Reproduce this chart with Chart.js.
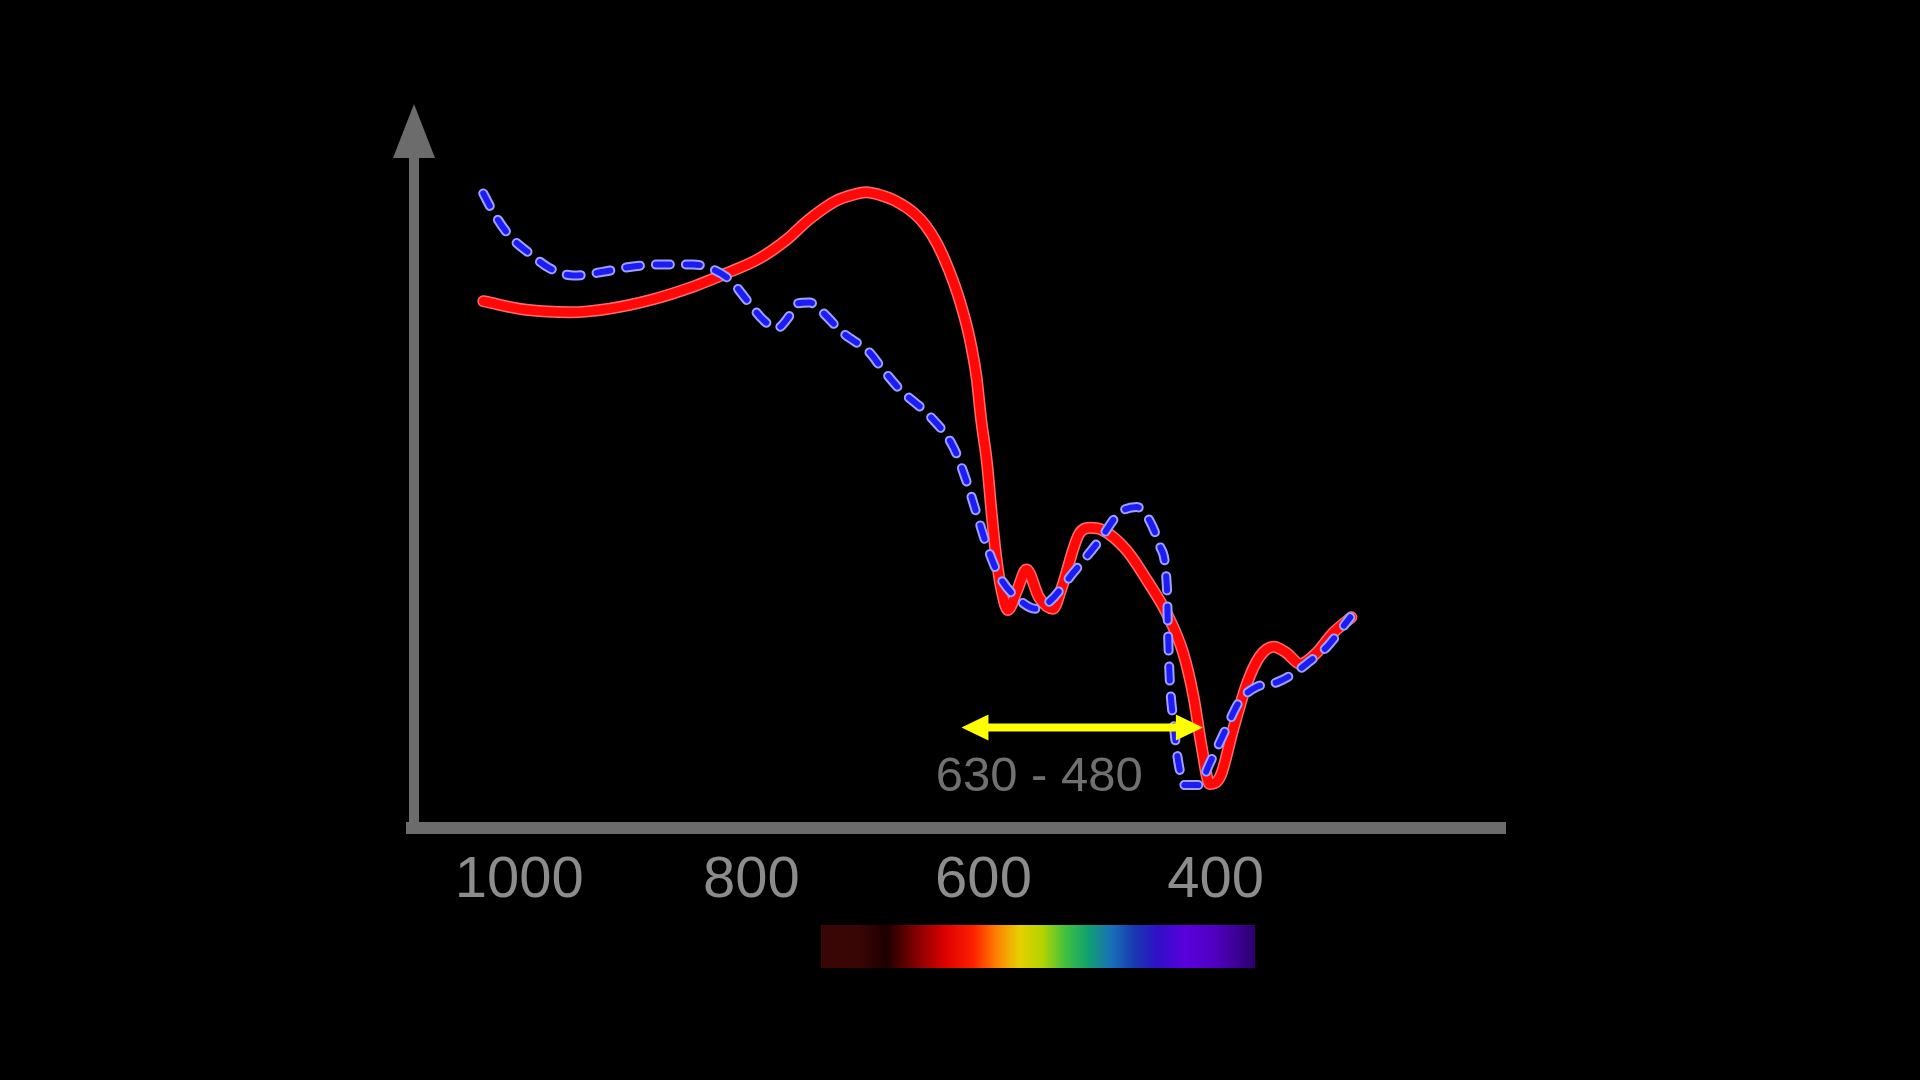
<!DOCTYPE html>
<html>
<head>
<meta charset="utf-8">
<script src="https://cdn.jsdelivr.net/npm/chart.js@4.4.1/dist/chart.umd.min.js"></script>
<style>
html,body{margin:0;padding:0;background:#000;}
#wrap{width:1920px;height:1080px;position:relative;}
</style>
</head>
<body>
<div id="wrap"><canvas id="c" width="1920" height="1080"></canvas></div>
<script>
// ---- data ----
const tickValues = [1000, 800, 600, 400];
const redWavelength = [1031,994,956,922,887,850,821,793,770,750,727,712,701,690,676,660,650,640,630,620,612,606,602,597,593,589,584,579,571,563,552,540,533,517,508,497,477,459,442,428,419,412,405,396,385,373,362,350,339,327,313,299,283];
const redValues     = [43.0,42.3,42.1,42.4,43.1,44.2,45.3,46.5,48.0,49.7,51.2,51.7,51.9,51.7,51.2,50.2,49.2,47.7,45.6,42.9,40.0,36.8,33.3,29.8,25.7,22.1,19.2,17.8,19.4,21.1,18.8,17.9,19.5,24.1,24.5,24.3,22.7,20.2,17.5,14.3,10.7,6.6,3.6,4.2,8.0,11.8,14.0,14.8,14.3,13.4,14.3,15.9,17.2];
const blueWavelength = [1031,1022,1008,991,974,953,928,905,879,850,833,818,804,790,778,768,761,750,741,721,698,689,672,646,626,615,606,597,586,569,555,543,523,500,483,468,457,448,442,441,439.5,436.5,432,426.5,415,405,393,379,365,347,333,319,304,284];
const blueValues     = [51.8,50.2,48.3,46.9,45.7,45.1,45.4,45.8,46.0,46.0,45.6,44.7,43.1,41.5,40.8,41.7,42.8,42.9,42.3,40.4,38.8,37.7,35.8,33.6,31.1,28.4,25.7,23.0,20.5,18.6,17.9,18.5,20.8,23.5,25.7,26.2,25.1,23.0,19.7,16.0,12.1,8.8,5.3,3.5,3.5,5.3,7.7,10.4,11.5,11.9,12.6,13.6,14.8,17.2];
const rangeLabel = "630 - 480";
const rangeArrow = [619, 411];
const rangeArrowLevel = 8.2;
const spectrumRange = [740, 366];
const spectrumStops = [
  [0.00,'#3a0505'],[0.086,'#3a0505'],[0.152,'#1e0000'],[0.218,'#800000'],[0.285,'#dd0000'],
  [0.351,'#ff2000'],[0.404,'#ff8000'],[0.457,'#e6d000'],[0.510,'#b4d400'],[0.563,'#40c040'],
  [0.616,'#10a070'],[0.669,'#1870b8'],[0.722,'#1838b0'],[0.775,'#3010c8'],[0.841,'#5a00dc'],
  [0.907,'#5000c0'],[1.00,'#2e0070']
];
const xMin = 149.8, xMax = 1090.7, yMin = 0, yMax = 59.1;

const toPts = (xs, ys) => xs.map((x, i) => ({x: x, y: ys[i]}));
const bluePts = toPts(blueWavelength, blueValues);
const redPts = toPts(redWavelength, redValues);

const AXIS = '#6c6c6c';

const decor = {
  id: 'decor',
  beforeDatasetsDraw(chart) {
    const {ctx, chartArea: a} = chart;
    ctx.save();
    ctx.fillStyle = AXIS;
    ctx.fillRect(a.left - 5, a.top + 40, 10, a.bottom - a.top - 34);
    ctx.beginPath();
    ctx.moveTo(a.left, a.top);
    ctx.lineTo(a.left - 21, a.top + 54);
    ctx.lineTo(a.left + 21, a.top + 54);
    ctx.closePath();
    ctx.fill();
    ctx.fillRect(a.left - 8, a.bottom - 6, a.right - a.left + 8, 12);
    ctx.restore();
  },
  afterDatasetsDraw(chart) {
    const {ctx, chartArea: a, scales: {x, y}} = chart;
    ctx.save();
    const x1 = x.getPixelForValue(rangeArrow[0]);
    const x2 = x.getPixelForValue(rangeArrow[1]);
    const yy = y.getPixelForValue(rangeArrowLevel);
    ctx.strokeStyle = '#ffff00';
    ctx.fillStyle = '#ffff00';
    ctx.lineWidth = 8;
    ctx.beginPath();
    ctx.moveTo(x1 + 20, yy);
    ctx.lineTo(x2 - 20, yy);
    ctx.stroke();
    ctx.beginPath();
    ctx.moveTo(x1, yy); ctx.lineTo(x1 + 27, yy - 13); ctx.lineTo(x1 + 27, yy + 13); ctx.closePath(); ctx.fill();
    ctx.beginPath();
    ctx.moveTo(x2, yy); ctx.lineTo(x2 - 27, yy - 13); ctx.lineTo(x2 - 27, yy + 13); ctx.closePath(); ctx.fill();
    ctx.fillStyle = '#707070';
    ctx.font = '49px "Liberation Sans", Arial, sans-serif';
    ctx.textAlign = 'center';
    ctx.textBaseline = 'middle';
    ctx.fillText(rangeLabel, (x1 + x2) / 2 - 43, yy + 50);
    const s1 = x.getPixelForValue(spectrumRange[0]);
    const s2 = x.getPixelForValue(spectrumRange[1]);
    const g = ctx.createLinearGradient(s1, 0, s2, 0);
    spectrumStops.forEach(s => g.addColorStop(s[0], s[1]));
    ctx.fillStyle = g;
    ctx.fillRect(s1, a.bottom + 97, s2 - s1, 43);
    ctx.restore();
  }
};

const common = {pointRadius: 0, fill: false, cubicInterpolationMode: 'monotone', borderJoinStyle: 'round'};

new Chart(document.getElementById('c'), {
  type: 'line',
  data: {
    datasets: [
      Object.assign({label: 'blue-core', data: bluePts, borderColor: '#1c1cf4', borderWidth: 6,
        borderDash: [14, 16], borderCapStyle: 'round', order: 0}, common),
      Object.assign({label: 'blue-edge', data: bluePts, borderColor: '#a0a0ff', borderWidth: 10,
        borderDash: [14, 16], borderCapStyle: 'round', order: 1}, common),
      Object.assign({label: 'red-core', data: redPts, borderColor: '#ff0808', borderWidth: 9,
        borderCapStyle: 'round', order: 2}, common),
      Object.assign({label: 'red-edge', data: redPts, borderColor: '#ff6a6a', borderWidth: 12,
        borderCapStyle: 'round', order: 3}, common)
    ]
  },
  options: {
    responsive: false,
    devicePixelRatio: 1,
    animation: false,
    layout: {padding: {left: 414, right: 414, top: 104, bottom: 0}},
    plugins: {legend: {display: false}, tooltip: {enabled: false}},
    scales: {
      x: {
        type: 'linear', reverse: true, min: xMin, max: xMax,
        grid: {display: false, drawTicks: false},
        border: {display: false},
        afterBuildTicks: s => { s.ticks = tickValues.map(v => ({value: v})); },
        afterFit: s => { s.height = 252; },
        ticks: {
          autoSkip: false, maxRotation: 0, padding: 18,
          color: '#8c8c8c',
          font: {family: '"Liberation Sans", Arial, sans-serif', size: 58},
          callback: v => String(v)
        }
      },
      y: {display: false, min: yMin, max: yMax}
    }
  },
  plugins: [decor]
});
</script>
</body>
</html>
